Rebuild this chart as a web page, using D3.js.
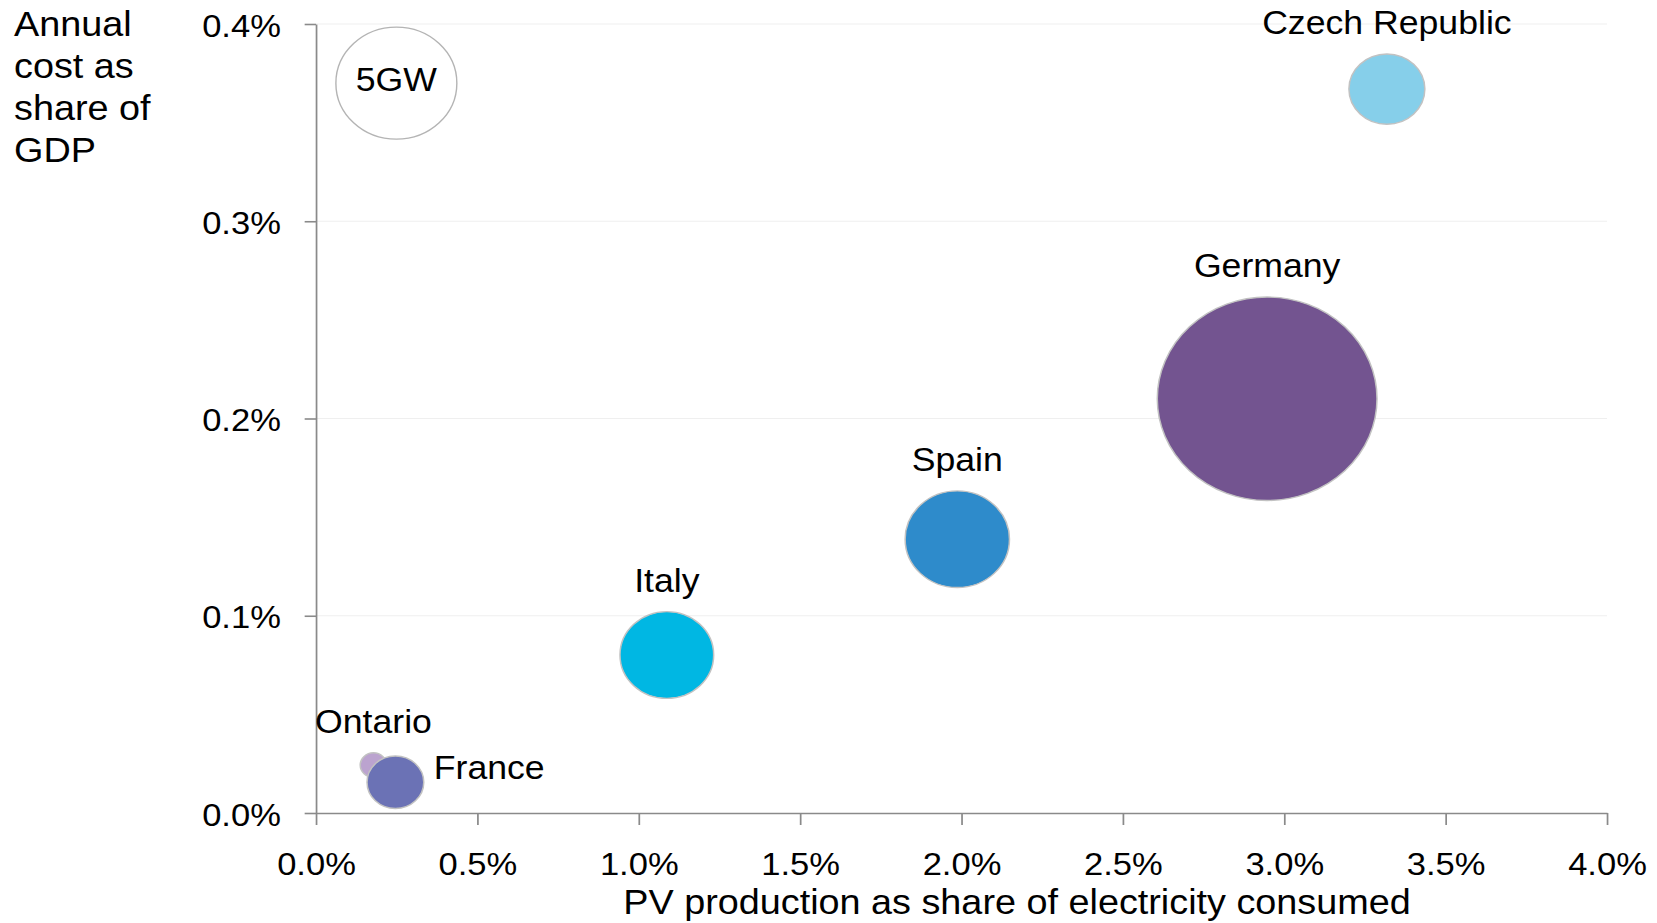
<!DOCTYPE html>
<html>
<head>
<meta charset="utf-8">
<script src="https://cdn.jsdelivr.net/npm/d3@7"></script>
<style>
  html, body { margin: 0; padding: 0; background: #fff; }
  svg { display: block; font-family: "Liberation Sans", Arial, sans-serif; }
</style>
</head>
<body>
<svg id="chart" width="1657" height="923"></svg>
<script>
// PV support cost versus PV share of electricity, bubble size = installed capacity (GW)
const countries   = ["Ontario", "France", "Italy", "Spain", "Germany", "Czech Republic"];
const pvShare     = [0.00178, 0.00246, 0.01087, 0.01987, 0.02947, 0.03318];
const costShare   = [0.000243, 0.000156, 0.000801, 0.001388, 0.00210, 0.00367];
const capacityGW  = [0.24, 1.1, 3.0, 3.72, 16.5, 1.97];
const fillColors  = ["#bba3cf", "#6b72b5", "#00b7e3", "#2e8bcb", "#735490", "#86cfea"];
const labelSides  = ["above", "right", "above", "above", "above", "above"];

// Size key bubble
const keyLabel = "5GW";
const keyGW    = 5;
const keyX     = 0.00249;
const keyY     = 0.00370;

// Axes
const xTicks = [0, 0.005, 0.01, 0.015, 0.02, 0.025, 0.03, 0.035, 0.04];
const yTicks = [0, 0.001, 0.002, 0.003, 0.004];
const xTitle = "PV production as share of electricity consumed";
const yTitle = ["Annual", "cost as", "share of", "GDP"];

const sx = 1.08; // horizontal stretch of the whole drawing
const svg = d3.select("#chart");
const root = svg.append("g").attr("transform", `scale(${sx},1)`);

const x = d3.scaleLinear().domain([0, 0.04]).range([316 / sx, 1607 / sx]);
const y = d3.scaleLinear().domain([0, 0.004]).range([813, 24]);
const r = d3.scaleSqrt().domain([0, 5]).range([0, 56]);
const pct = d3.format(".1%");

// Gridlines
root.append("g")
  .selectAll("line")
  .data(yTicks.slice(1))
  .join("line")
  .attr("x1", x(0)).attr("x2", x(0.04))
  .attr("y1", d => y(d)).attr("y2", d => y(d))
  .attr("stroke", "#efefef").attr("stroke-width", 1.2);

// Y axis
const yAxis = root.append("g")
  .attr("transform", `translate(${x(0)},0)`)
  .call(d3.axisLeft(y).tickValues(yTicks).tickFormat(pct).tickSize(10.5).tickPadding(22).tickSizeOuter(0));
yAxis.selectAll("text").attr("font-size", 32).attr("fill", "#000").attr("dy", "0.38em")
  .attr("font-family", "Liberation Sans, Arial, sans-serif");

// X axis
const xAxis = root.append("g")
  .attr("transform", `translate(0,${y(0)})`)
  .call(d3.axisBottom(x).tickValues(xTicks).tickFormat(pct).tickSize(12).tickPadding(27.5).tickSizeOuter(0));
xAxis.selectAll("text").attr("font-size", 32).attr("fill", "#000")
  .attr("font-family", "Liberation Sans, Arial, sans-serif");

[yAxis, xAxis].forEach(a => {
  a.select(".domain").attr("stroke", "#8a8a8a").attr("stroke-width", 1.6);
  a.selectAll(".tick line").attr("stroke", "#8a8a8a").attr("stroke-width", 1.6);
});

// Axis titles
root.append("text")
  .attr("x", 1017 / sx).attr("y", 914)
  .attr("text-anchor", "middle")
  .attr("font-size", 35).attr("fill", "#000")
  .text(xTitle);

root.append("text")
  .attr("font-size", 35).attr("fill", "#000")
  .selectAll("tspan")
  .data(yTitle)
  .join("tspan")
  .attr("x", 14 / sx)
  .attr("y", (d, i) => 36.5 + i * 42)
  .text(d => d);

// Size key
root.append("circle")
  .attr("cx", x(keyX)).attr("cy", y(keyY)).attr("r", r(keyGW))
  .attr("fill", "#fff").attr("stroke", "#b4b4b4").attr("stroke-width", 1.3);
root.append("text")
  .attr("x", x(keyX)).attr("y", y(keyY) + 8)
  .attr("text-anchor", "middle")
  .attr("font-size", 33).attr("fill", "#000")
  .text(keyLabel);

// Bubbles
const points = countries.map((name, i) => ({
  name, px: pvShare[i], cost: costShare[i], gw: capacityGW[i],
  color: fillColors[i], side: labelSides[i]
}));

root.append("g")
  .selectAll("circle")
  .data(points)
  .join("circle")
  .attr("cx", d => x(d.px))
  .attr("cy", d => y(d.cost))
  .attr("r", d => r(d.gw))
  .attr("fill", d => d.color)
  .attr("stroke", "#c2c2c2")
  .attr("stroke-width", 1.4);

// Labels
root.append("g")
  .selectAll("text")
  .data(points)
  .join("text")
  .attr("font-size", 33).attr("fill", "#000")
  .attr("text-anchor", d => d.side === "right" ? "start" : "middle")
  .attr("x", d => d.side === "right" ? x(d.px) + r(d.gw) + 10 / sx : x(d.px))
  .attr("y", d => d.side === "right" ? y(d.cost) - 3 : y(d.cost) - r(d.gw) - 20)
  .text(d => d.name);
</script>
</body>
</html>
